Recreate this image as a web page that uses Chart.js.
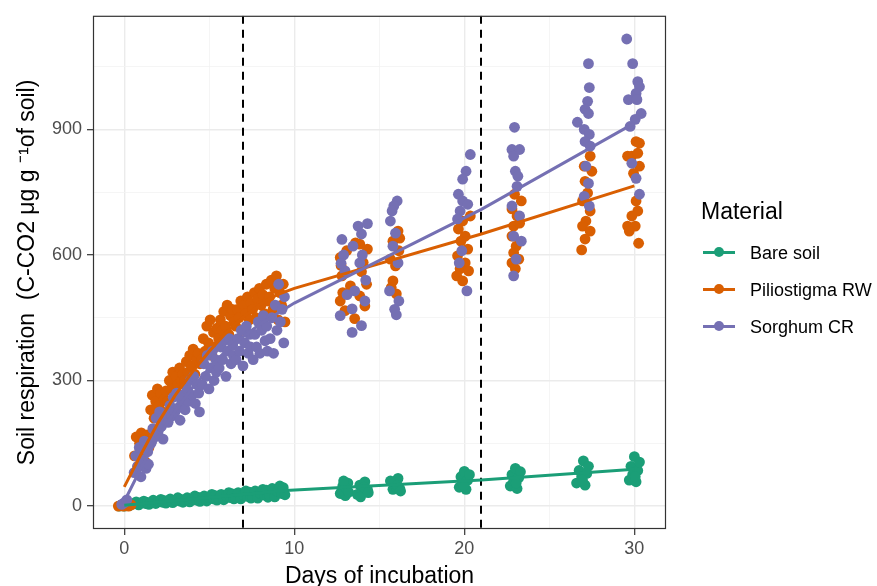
<!DOCTYPE html>
<html><head><meta charset="utf-8">
<script src="https://cdn.jsdelivr.net/npm/chart.js@4.4.1/dist/chart.umd.min.js"></script>
<style>
body{margin:0;background:#fff;}
#wrap{position:relative;width:877px;height:586px;overflow:hidden;font-family:"Liberation Sans",Arial,sans-serif;}
#c{position:absolute;left:0;top:0;}
.lg{position:absolute;color:#000;white-space:nowrap;}
.lgt{font-size:23px;line-height:23px;}
.lgl{font-size:18px;line-height:24px;}
.key{position:absolute;width:32px;height:3px;}
.dot{position:absolute;width:10px;height:10px;border-radius:50%;}
</style>
</head><body>
<div id="wrap"><canvas id="c" width="877" height="586"></canvas><div id="legend"></div></div>
<script>
// ---------------- data ----------------
const seriesNames = ["Bare soil", "Piliostigma RW", "Sorghum CR"];
const seriesColors = ["#1b9e77", "#d95f02", "#7570b3"];

const xMajorTicks = [0, 10, 20, 30];
const xMinorTicks = [5, 15, 25];
const yMajorTicks = [0, 300, 600, 900];
const yMinorTicks = [150, 450, 750, 1050];
const phaseBreaks = [7, 21];

// Bare soil points (jittered days, respiration)
const bareX = [
 -0.3,0.0,0.3,
 0.55,0.7,0.85,1.0,1.15,1.25,1.35,1.45,
 1.55,1.7,1.85,2.0,2.15,2.25,2.35,2.45,
 2.55,2.7,2.85,3.0,3.15,3.25,3.35,3.45,
 3.55,3.7,3.85,4.0,4.15,4.25,4.35,4.45,
 4.55,4.7,4.85,5.0,5.15,5.25,5.35,5.45,
 5.55,5.7,5.85,6.0,6.15,6.25,6.35,6.45,
 6.55,6.7,6.85,7.0,7.15,7.25,7.35,7.45,
 7.55,7.7,7.85,8.0,8.15,8.25,8.35,8.45,
 8.55,8.7,8.85,9.0,9.15,9.25,9.35,9.45,
 12.7,12.85,13.0,13.15,12.8,13.05,12.9,13.2,
 13.7,13.85,14.0,14.15,14.3,13.9,14.1,14.35,
 15.8,15.9,16.0,16.1,16.2,15.65,16.05,16.25,
 19.7,19.8,19.9,20.0,20.1,20.2,20.3,19.95,
 22.7,22.8,22.9,23.0,23.1,23.2,23.3,23.05,
 26.6,26.75,26.9,27.0,27.1,27.2,27.3,26.95,
 29.7,29.8,29.9,30.0,30.1,30.2,30.3,30.05
];
const bareY = [
 0,0,1,
 5,10,3,8,12,6,9,4,
 8,14,6,11,16,9,13,7,
 10,17,8,14,20,12,16,9,
 12,20,10,17,24,14,21,11,
 15,24,12,20,28,17,25,14,
 18,28,15,24,32,20,29,17,
 20,32,17,27,36,23,33,19,
 22,36,19,30,40,26,38,21,
 25,42,22,35,48,30,44,27,
 30,48,25,55,38,42,60,33,
 28,50,35,58,40,22,45,32,
 40,55,45,66,42,60,50,36,
 45,70,55,83,40,62,75,50,
 48,75,60,90,42,68,82,55,
 55,85,70,108,50,78,95,62,
 62,95,75,118,58,85,105,70
];

// Piliostigma RW points
const pilioX = [
 -0.35,-0.2,-0.05,0.1,0.25,0.4,
 0.6,0.7,0.8,0.9,1.0,1.05,1.15,1.25,1.35,1.45,
 1.55,1.65,1.75,1.85,1.95,2.05,2.15,2.25,2.35,2.45,
 2.55,2.65,2.75,2.85,2.95,3.05,3.15,3.25,3.35,3.45,
 3.55,3.65,3.75,3.85,3.95,4.05,4.15,4.25,4.35,4.45,
 4.55,4.65,4.75,4.85,4.95,5.05,5.15,5.25,5.35,5.45,
 5.55,5.65,5.75,5.85,5.95,6.05,6.15,6.25,6.35,6.45,
 6.55,6.65,6.75,6.85,6.95,7.05,7.15,7.25,7.35,7.45,
 7.55,7.65,7.75,7.85,7.95,8.05,8.15,8.25,8.35,8.45,
 8.55,8.65,8.75,8.85,8.95,9.05,9.15,9.25,9.35,9.45,
 12.7,13.85,14.3,13.08,14.05,12.8,13.3,12.7,13.85,12.98,14.15,13.55,12.85,13.95,14.25,12.75,13.6,
 16.1,15.8,16.15,15.65,15.95,15.8,15.7,16.0,16.2,
 19.9,20.35,19.65,20.05,19.8,20.2,19.6,20.05,19.75,19.55,20.25,19.9,
 22.95,23.35,22.8,23.1,22.9,23.25,22.8,23.05,22.9,23.2,22.8,23.0,
 27.4,27.05,27.5,27.1,27.25,26.95,27.4,27.15,26.95,27.4,27.1,26.9,
 30.1,30.3,29.85,30.2,29.6,30.3,29.95,30.1,30.2,29.85,29.6,30.05,29.7,30.25
];
const pilioY = [
 0,2,0,1,0,3,
 120,165,95,150,175,130,160,105,170,140,
 230,265,210,250,280,240,270,225,255,275,
 250,300,280,320,265,310,290,330,300,315,
 300,345,320,360,335,375,315,350,365,340,
 350,400,370,430,390,445,360,415,380,425,
 400,445,420,465,430,480,410,455,470,440,
 430,470,450,490,420,480,460,500,445,485,
 470,510,450,495,520,480,505,460,530,490,
 500,540,470,520,550,445,510,480,530,440,
 594,626,614,610,582,550,526,490,502,467,478,448,510,560,530,575,629,
 657,633,610,590,574,538,522,507,640,
 681,693,662,645,633,614,598,581,567,550,562,538,
 745,729,710,693,669,676,645,621,605,590,581,567,
 836,812,800,776,748,729,705,681,669,657,638,612,
 871,867,836,843,836,812,795,729,705,693,669,669,657,628
];

// Sorghum CR points
const sorghX = [
 -0.15,0.0,0.15,
 0.58,0.68,0.78,0.88,0.98,1.08,1.18,1.28,1.38,1.42,
 1.58,1.68,1.78,1.88,1.98,2.08,2.18,2.28,2.38,2.42,
 2.58,2.68,2.78,2.88,2.98,3.08,3.18,3.28,3.38,3.42,
 3.58,3.68,3.78,3.88,3.98,4.08,4.18,4.28,4.38,4.42,
 4.58,4.68,4.78,4.88,4.98,5.08,5.18,5.28,5.38,5.42,
 5.58,5.68,5.78,5.88,5.98,6.08,6.18,6.28,6.38,6.42,
 6.58,6.68,6.78,6.88,6.98,7.08,7.18,7.28,7.38,7.42,
 7.58,7.68,7.78,7.88,7.98,8.08,8.18,8.28,8.38,8.42,
 8.58,8.68,8.78,8.88,8.98,9.08,9.18,9.28,9.38,9.42,
 12.8,13.75,14.3,13.95,13.45,13.4,13.95,12.7,13.4,14.15,13.55,12.98,13.85,12.9,14.2,13.1,14.0,12.75,
 16.05,15.85,15.75,15.65,15.95,15.8,16.1,15.6,16.15,15.9,16.0,
 20.35,20.1,19.9,19.65,19.9,19.75,20.2,19.6,20.15,19.85,19.7,
 22.95,22.8,23.25,22.9,23.0,23.15,22.8,23.25,22.9,23.35,23.05,22.9,23.1,
 27.3,27.35,27.25,27.1,27.3,26.65,27.05,27.35,27.1,27.4,27.15,27.3,27.05,27.35,
 29.55,29.9,30.2,30.3,30.1,29.65,30.15,30.4,30.05,29.75,29.85,30.1,30.3
];
const sorghY = [
 4,8,15,
 80,120,95,140,70,110,155,90,130,100,
 150,185,165,210,175,225,190,160,205,220,
 200,240,215,260,225,270,235,205,250,265,
 230,280,250,300,265,310,245,290,270,225,
 290,340,310,360,280,330,370,300,350,320,
 330,380,350,395,310,370,400,340,385,360,
 350,400,370,420,335,390,430,365,410,380,
 350,410,380,440,365,420,455,395,430,370,
 400,450,365,480,420,530,440,470,390,500,
 637,669,675,650,621,415,431,455,471,490,514,562,581,600,540,505,600,580,
 729,717,705,681,652,621,581,514,490,470,457,
 840,800,781,745,729,705,721,686,514,610,581,
 905,852,852,836,800,788,717,693,645,633,590,550,764,
 1057,1000,967,948,938,917,900,888,871,860,812,771,740,717,
 1116,1057,1014,1002,986,971,971,938,924,907,819,783,745
];

// Fitted trend lines
const bareFitX  = [0, 9.5, 21, 30];
const bareFitY  = [2, 37, 62, 88];
const pilioFitX = [0, 1, 2, 3, 4, 5, 6, 7, 8, 9, 10, 21, 30];
const pilioFitY = [46, 125, 200, 265, 320, 370, 415, 452, 482, 505, 520, 650, 765];
const sorghFitX = [0, 1, 2, 3, 4, 5, 6, 7, 8, 9, 10, 21, 30];
const sorghFitY = [11, 92, 165, 228, 282, 330, 372, 405, 435, 460, 485, 709, 915];

// ---------------- chart ----------------
const FONT = '"Liberation Sans", Arial, sans-serif';
Chart.defaults.font.family = FONT;
const pts = (xs, ys) => xs.map((x, i) => ({x: x, y: ys[i]}));

const xTicksAll = xMajorTicks.concat(xMinorTicks).sort((a,b)=>a-b);
const yTicksAll = yMajorTicks.concat(yMinorTicks).sort((a,b)=>a-b);

const panelPlugin = {
  id: 'panel',
  beforeDatasetsDraw(chart) {
    const {ctx, chartArea: a, scales} = chart;
    ctx.save();
    ctx.beginPath(); ctx.rect(a.left, a.top, a.right - a.left, a.bottom - a.top); ctx.clip();
    ctx.strokeStyle = '#000'; ctx.lineWidth = 2; ctx.setLineDash([8, 6]);
    phaseBreaks.forEach(v => {
      const px = Math.round(scales.x.getPixelForValue(v));
      ctx.beginPath(); ctx.moveTo(px, a.top); ctx.lineTo(px, a.bottom); ctx.stroke();
    });
    ctx.restore();
  },
  afterDraw(chart) {
    const {ctx, chartArea: a} = chart;
    ctx.save();
    ctx.strokeStyle = '#333333'; ctx.lineWidth = 1.2;
    ctx.strokeRect(a.left + 0.5, a.top + 0.5, a.right - a.left - 1, a.bottom - a.top - 1);
    ctx.restore();
  }
};

const R = 5.4;
new Chart(document.getElementById('c'), {
  type: 'scatter',
  data: {
    datasets: [
      {label: seriesNames[0], data: pts(bareX, bareY), backgroundColor: seriesColors[0], pointRadius: R, pointBorderWidth: 0, order: 6},
      {label: seriesNames[1], data: pts(pilioX, pilioY), backgroundColor: seriesColors[1], pointRadius: R, pointBorderWidth: 0, order: 5},
      {label: seriesNames[2], data: pts(sorghX, sorghY), backgroundColor: seriesColors[2], pointRadius: R, pointBorderWidth: 0, order: 4},
      {type: 'line', label: 'fit0', data: pts(bareFitX, bareFitY), borderColor: seriesColors[0], borderWidth: 3, pointRadius: 0, tension: 0, fill: false, order: 3},
      {type: 'line', label: 'fit1', data: pts(pilioFitX, pilioFitY), borderColor: seriesColors[1], borderWidth: 3, pointRadius: 0, tension: 0, fill: false, order: 2},
      {type: 'line', label: 'fit2', data: pts(sorghFitX, sorghFitY), borderColor: seriesColors[2], borderWidth: 3, pointRadius: 0, tension: 0, fill: false, order: 1}
    ]
  },
  options: {
    responsive: false, animation: false, devicePixelRatio: 1,
    layout: {padding: {left: 0, top: 14, right: 211, bottom: 0}},
    plugins: {legend: {display: false}, tooltip: {enabled: false}},
    scales: {
      x: {
        type: 'linear', min: -1.84, max: 31.86,
        afterFit: s => { s.height = 57; },
        afterBuildTicks: s => { s.ticks = xTicksAll.map(v => ({value: v})); },
        ticks: {
          callback: v => xMajorTicks.includes(v) ? String(v) : '',
          color: '#4d4d4d', font: {size: 18, family: FONT}, padding: 3, maxRotation: 0, autoSkip: false
        },
        grid: {
          color: c => (c.tick && xMajorTicks.includes(c.tick.value)) ? '#ebebeb' : '#f2f2f2',
          lineWidth: c => (c.tick && xMajorTicks.includes(c.tick.value)) ? 1.4 : 0.8,
          tickColor: c => (c.tick && xMajorTicks.includes(c.tick.value)) ? '#333333' : 'rgba(0,0,0,0)',
          tickLength: 6, tickWidth: 1.2
        },
        border: {display: false},
        title: {display: true, text: 'Days of incubation', color: '#000', font: {size: 23, family: FONT, lineHeight: 0.8}, padding: {top: 0, bottom: 0}}
      },
      y: {
        type: 'linear', min: -54.8, max: 1171.4,
        afterFit: s => { s.width = 93; },
        afterBuildTicks: s => { s.ticks = yTicksAll.map(v => ({value: v})); },
        ticks: {
          callback: v => yMajorTicks.includes(v) ? String(v) : '',
          color: '#4d4d4d', font: {size: 18, family: FONT}, padding: 5, autoSkip: false
        },
        grid: {
          color: c => (c.tick && yMajorTicks.includes(c.tick.value)) ? '#ebebeb' : '#f2f2f2',
          lineWidth: c => (c.tick && yMajorTicks.includes(c.tick.value)) ? 1.4 : 0.8,
          tickColor: c => (c.tick && yMajorTicks.includes(c.tick.value)) ? '#333333' : 'rgba(0,0,0,0)',
          tickLength: 6, tickWidth: 1.2
        },
        border: {display: false},
        title: {display: true, text: 'Soil respiration  (C-CO2 \u03BCg g \u207B\u00B9of soil)', color: '#000', font: {size: 23, family: FONT, lineHeight: 0.8}, padding: {top: 18, bottom: 0}}
      }
    }
  },
  plugins: [panelPlugin]
});

// ---------------- legend (HTML) ----------------
const lg = document.getElementById('legend');
const lgTitle = document.createElement('div');
lgTitle.className = 'lg lgt'; lgTitle.textContent = 'Material';
lgTitle.style.left = '701px'; lgTitle.style.top = '200px';
lg.appendChild(lgTitle);
const rowCenters = [252, 289, 326];
seriesNames.forEach((name, i) => {
  const cy = rowCenters[i];
  const key = document.createElement('div');
  key.className = 'key'; key.style.background = seriesColors[i];
  key.style.left = '703px'; key.style.top = (cy - 1.5) + 'px';
  const dot = document.createElement('div');
  dot.className = 'dot'; dot.style.background = seriesColors[i];
  dot.style.left = '714px'; dot.style.top = (cy - 5) + 'px';
  const t = document.createElement('div');
  t.className = 'lg lgl'; t.textContent = name;
  t.style.left = '750px'; t.style.top = (cy - 11) + 'px';
  lg.appendChild(key); lg.appendChild(dot); lg.appendChild(t);
});
</script>
</body></html>
